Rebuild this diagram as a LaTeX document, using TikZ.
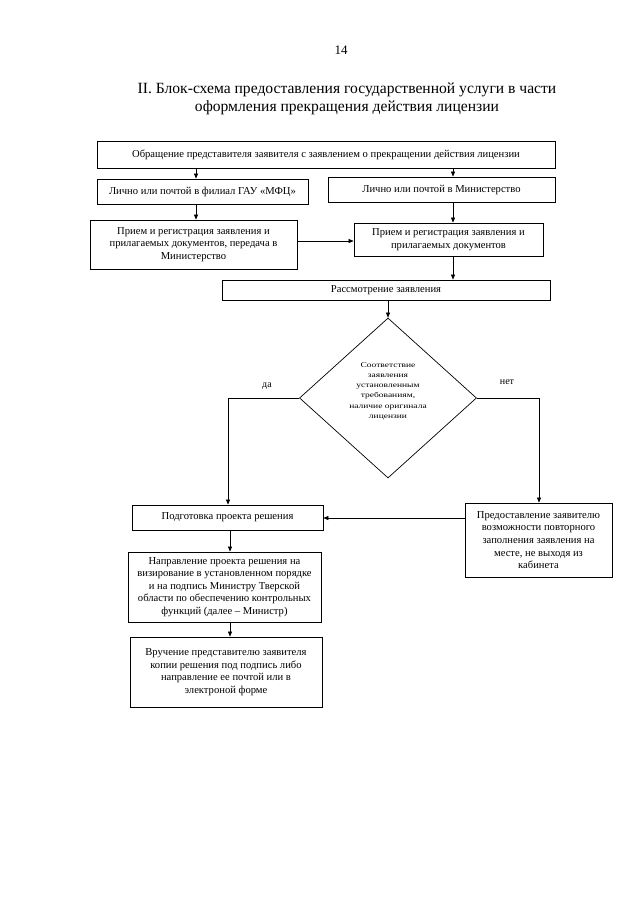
\documentclass[tikz,border=0pt]{standalone}
\usepackage{fontspec}
\setmainfont{Liberation Serif}
\newfontfamily\widefont[FakeStretch=1.3]{Liberation Serif}
\usetikzlibrary{arrows.meta,shapes.geometric}
\begin{document}
\begin{tikzpicture}[x=1pt,y=-1pt,
  box/.style={draw, line width=0.8pt, inner sep=1pt, align=center, font=\fontsize{10.6}{12.6}\selectfont},
  arr/.style={-{Triangle[length=5pt,width=4pt]}, line width=0.6pt},
  lbl/.style={font=\fontsize{10}{12}\selectfont}]
\useasboundingbox[fill=white] (0,0) rectangle (640,905);

\node[font=\fontsize{13}{15}\selectfont] (pg) at (341,50) {14};
\node[font=\fontsize{15.6}{17.5}\selectfont, align=center] (title) at (347,99)
  {II. Блок-схема предоставления государственной услуги в части\\
   оформления прекращения действия лицензии};

\node[box, minimum width=458pt, minimum height=27pt] (b1) at (326,154.5)
  {Обращение представителя заявителя с заявлением о прекращении действия лицензии};
\node[box, minimum width=211pt, minimum height=25pt] (b2l) at (202.5,191.5)
  {Лично или почтой в филиал ГАУ «МФЦ»};
\node[box, minimum width=227pt, minimum height=25pt] (b2r) at (441.5,189.5)
  {Лично или почтой в Министерство};
\node[box, minimum width=207pt, minimum height=49pt] (b3l) at (193.5,244.5)
  {Прием и регистрация заявления и\\прилагаемых документов, передача в\\Министерство};
\node[box, minimum width=189pt, minimum height=33pt] (b3r) at (448.5,239.5)
  {Прием и регистрация заявления и\\прилагаемых документов};
\node[box, minimum width=328pt, minimum height=20pt] (b4) at (386,290)
  {Рассмотрение заявления};
\node[draw, line width=0.7pt, shape=diamond, inner sep=0pt, minimum width=177pt, minimum height=160pt] (d) at (388,398) {};
\node[align=center, inner sep=0pt, font=\widefont\fontsize{7.3}{10.2}\selectfont] (dtext) at (388,391)
  {Соответствие\\заявления\\установленным\\требованиям,\\наличие оригинала\\лицензии};
\node[box, minimum width=191pt, minimum height=25pt] (b5) at (227.5,517.5)
  {Подготовка проекта решения};
\node[box, minimum width=147pt, minimum height=74pt] (b6) at (538.5,540)
  {Предоставление заявителю\\возможности повторного\\заполнения заявления на\\месте, не выходя из\\кабинета};
\node[box, minimum width=193pt, minimum height=70pt] (b7) at (224.5,587)
  {Направление проекта решения на\\визирование в установленном порядке\\и на подпись Министру Тверской\\области по обеспечению контрольных\\функций (далее – Министр)};
\node[box, minimum width=192pt, minimum height=70pt] (b8) at (226,672)
  {Вручение представителю заявителя\\копии решения под подпись либо\\направление ее почтой или в\\электроной форме};

\node[lbl] (yes) at (267,386) {да};
\node[lbl] (no) at (507,382) {нет};

\coordinate (cL) at (196,0);
\coordinate (cR) at (453,0);
\coordinate (cD) at (388,0);
\coordinate (cLow) at (230,0);
\coordinate (cH) at (0,241);
\coordinate (cH2) at (0,518);
\coordinate (cYes) at (228,398);
\coordinate (cNo) at (539,398);

\draw[arr] (cL |- b1.south) -- (cL |- b2l.north);
\draw[arr] (cR |- b1.south) -- (cR |- b2r.north);
\draw[arr] (cL |- b2l.south) -- (cL |- b3l.north);
\draw[arr] (cR |- b2r.south) -- (cR |- b3r.north);
\draw[arr] (b3l.east |- cH) -- (b3r.west |- cH);
\draw[arr] (cR |- b3r.south) -- (cR |- b4.north);
\draw[arr] (cD |- b4.south) -- (d.north);
\draw[arr] (d.west) -- (cYes) -- (cYes |- b5.north);
\draw[arr] (d.east) -- (cNo) -- (cNo |- b6.north);
\draw[arr] (b6.west |- cH2) -- (b5.east |- cH2);
\draw[arr] (cLow |- b5.south) -- (cLow |- b7.north);
\draw[arr] (cLow |- b7.south) -- (cLow |- b8.north);
\end{tikzpicture}
\end{document}
